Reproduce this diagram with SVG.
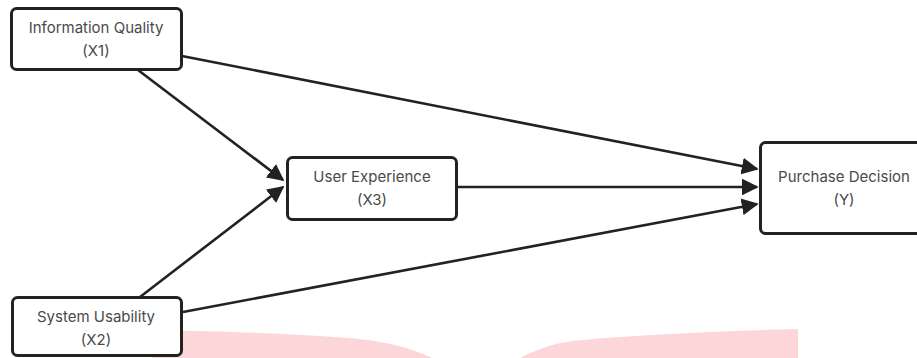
<svg xmlns="http://www.w3.org/2000/svg" width="917" height="358" viewBox="0 0 917 358">
<defs>
<style>
.box{fill:#fff;stroke:#222;stroke-width:3}
.lbl{font-family:Inter,"Liberation Sans",sans-serif;font-size:15px;fill:#4a4a4a;text-anchor:middle}
.edge{stroke:#222;stroke-width:2.6;fill:none;marker-end:url(#ah)}
</style>
<marker id="ah" viewBox="0 0 10 10" refX="9" refY="5" markerWidth="6.5" markerHeight="6.5" markerUnits="strokeWidth" orient="auto">
<path d="M0,0 L10,5 L0,10 Z" fill="#222"/>
</marker>
</defs>
<rect width="917" height="358" fill="#fff"/>
<path d="M152,330 C260,332 340,336 375,341 C400,345 420,352 432,358 L520,358 C535,350 552,344 572,341 C620,336 720,331 798,329 L798,358 L152,358 Z" fill="#fdd6d9"/>
<g id="connectors">
<line class="edge" x1="182" y1="56" x2="757" y2="169"/>
<line class="edge" x1="457" y1="187" x2="757" y2="187"/>
<line class="edge" x1="183" y1="312" x2="757" y2="204"/>
<line class="edge" x1="138" y1="70" x2="283" y2="180"/>
<line class="edge" x1="140" y1="297" x2="283" y2="187"/>
</g>
<g id="x1">
<rect class="box" x="11.5" y="8.5" width="170" height="61" rx="5"/>
<text class="lbl" x="96" y="33">Information Quality</text>
<text class="lbl" x="96" y="56">(X1)</text>
</g>
<g id="x3">
<rect class="box" x="287.5" y="157.5" width="169" height="62" rx="5"/>
<text class="lbl" x="372" y="182">User Experience</text>
<text class="lbl" x="372" y="205">(X3)</text>
</g>
<g id="y">
<rect class="box" x="760.5" y="142.5" width="170" height="91" rx="5"/>
<text class="lbl" x="844" y="182">Purchase Decision</text>
<text class="lbl" x="844" y="205">(Y)</text>
</g>
<g id="x2">
<rect class="box" x="12.5" y="297.5" width="169" height="58" rx="5"/>
<text class="lbl" x="96" y="322">System Usability</text>
<text class="lbl" x="96" y="345">(X2)</text>
</g>
</svg>
